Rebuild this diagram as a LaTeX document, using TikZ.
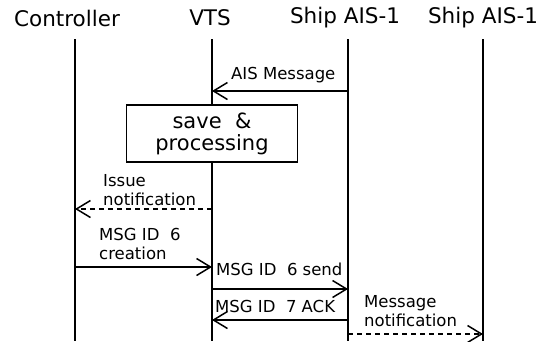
\documentclass[tikz,border=0pt]{standalone}
\usepackage{fontspec}
\setmainfont{DejaVu Sans}
\usetikzlibrary{arrows.meta}

\tikzset{
    head/.style={font=\fontsize{21.5}{24}\selectfont, inner sep=0pt},
    life/.style={line width=1.7pt},
    msg/.style={line width=1.5pt, -{Straight Barb[length=14pt,width=17pt,line width=1.5pt]}},
    note/.style={dashed, dash pattern=on 5pt off 4pt},
    lbl/.style={font=\fontsize{16.5}{19}\selectfont, inner sep=0pt, anchor=west, align=left},
    procbox/.style={draw, line width=1.7pt, minimum width=171pt, minimum height=57pt, align=center,
        font=\fontsize{21}{22}\selectfont, inner sep=0pt}
}

\begin{document}
\begin{tikzpicture}[x=1pt, y=-1pt]
    \useasboundingbox (0,0) rectangle (552,341);

    % lifeline heads
    \node[head] (ctrl) at (67,18) {Controller};
    \node[head] (vts) at (210,18) {VTS};
    \node[head] (shipa) at (345,18) {Ship AIS-1};
    \node[head] (shipb) at (483,18) {Ship AIS-1};

    \coordinate (ctrltop) at (75,39);
    \coordinate (ctrlend) at (75,341);
    \coordinate (vtstop) at (212,39);
    \coordinate (vtsend) at (212,341);
    \coordinate (shipatop) at (348,39);
    \coordinate (shipaend) at (348,341);
    \coordinate (shipbtop) at (483,39);
    \coordinate (shipbend) at (483,341);

    \node[procbox] (proc) at (212,133.5) {save \ \&\\processing};

    \draw[life] (ctrltop) -- (ctrlend);
    \draw[life] (vtstop) -- (proc.north);
    \draw[life] (proc.south) -- (vtsend);
    \draw[life] (shipatop) -- (shipaend);
    \draw[life] (shipbtop) -- (shipbend);

    % messages
    \coordinate (aisfrom) at (348,91);
    \coordinate (aisto) at (212,91);
    \node[lbl] (aislbl) at (231,75) {AIS Message};
    \draw[msg] (aisfrom) -- (aisto);

    \coordinate (issuefrom) at (212,209);
    \coordinate (issueto) at (75,209);
    \node[lbl] (issuelbl) at (103,190) {Issue\\notification};
    \draw[msg, note] (issuefrom) -- (issueto);

    \coordinate (createfrom) at (75,267);
    \coordinate (createto) at (212,267);
    \node[lbl] (createlbl) at (99,244) {MSG ID \ 6\\creation};
    \draw[msg] (createfrom) -- (createto);

    \coordinate (sendfrom) at (212,289);
    \coordinate (sendto) at (348,289);
    \node[lbl] (sendlbl) at (216,269) {MSG ID \ 6 send};
    \draw[msg] (sendfrom) -- (sendto);

    \coordinate (ackfrom) at (348,320);
    \coordinate (ackto) at (212,320);
    \node[lbl] (acklbl) at (215,306) {MSG ID \ 7 ACK};
    \draw[msg] (ackfrom) -- (ackto);

    \coordinate (notefrom) at (348,334);
    \coordinate (noteto) at (483,334);
    \node[lbl] (notelbl) at (364,311.5) {Message\\notification};
    \draw[msg, note] (notefrom) -- (noteto);
\end{tikzpicture}
\end{document}
